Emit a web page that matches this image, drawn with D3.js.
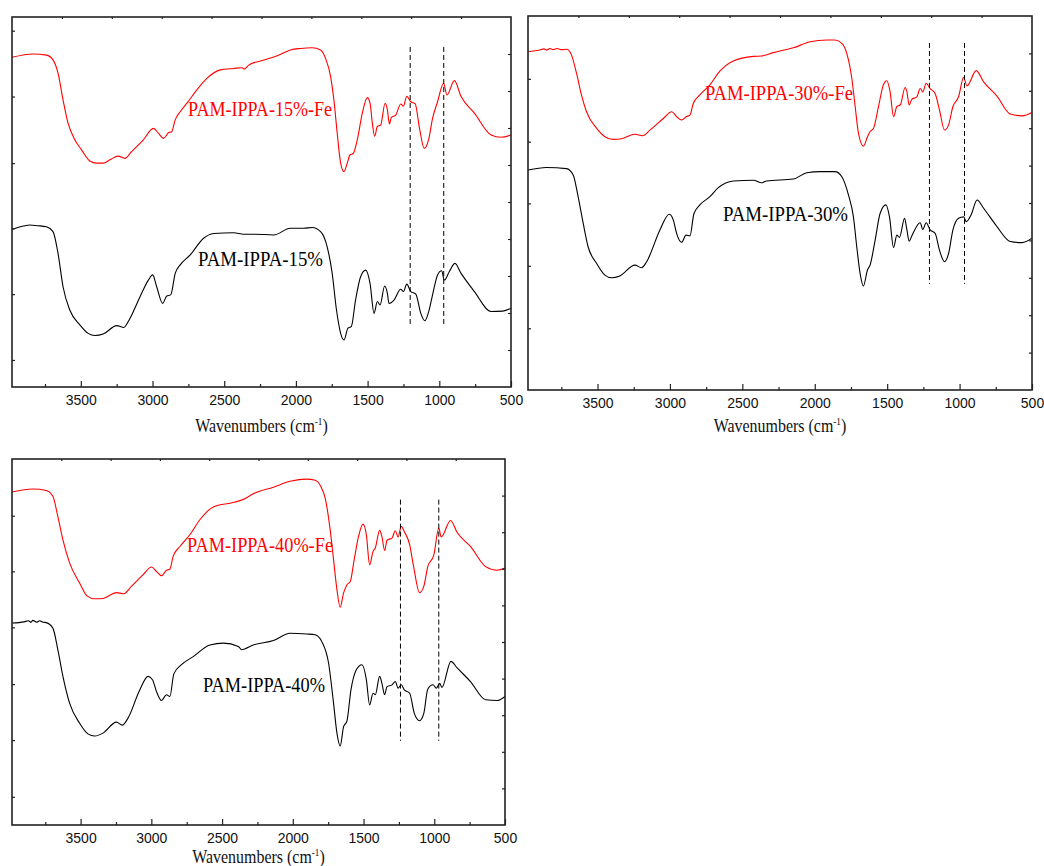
<!DOCTYPE html>
<html>
<head>
<meta charset="utf-8">
<script src="https://cdn.jsdelivr.net/npm/d3@7"></script>
<style>
  html, body { margin: 0; padding: 0; background: #fff; }
  svg { display: block; }
</style>
</head>
<body>
<div id="app"></div>
<script>
// FTIR spectra, readings as [wavenumber, transmittance (arb. 0-100)]
const s15Fe = [[3980,89.1],[3833,90.0],[3740,89.7],[3694,88.4],[3659,84.8],[3624,77.6],[3589,71.3],[3542,66.8],[3495,64.1],[3437,61.1],[3390,60.5],[3344,60.5],[3297,61.4],[3239,62.4],[3192,61.8],[3146,63.6],[3064,66.8],[2994,69.9],[2959,68.6],[2924,67.2],[2889,68.7],[2866,69.0],[2842,72.2],[2807,74.4],[2760,76.7],[2691,80.3],[2621,83.4],[2527,85.7],[2434,86.1],[2376,86.3],[2360,85.9],[2329,87.0],[2248,88.1],[2131,89.5],[2038,91.1],[1968,91.5],[1887,91.7],[1828,91.1],[1793,88.8],[1758,83.9],[1735,77.6],[1712,68.6],[1688,60.5],[1665,58.2],[1642,60.5],[1623,62.7],[1600,63.1],[1572,66.8],[1537,74.0],[1502,78.2],[1483,76.7],[1467,71.3],[1451,67.8],[1432,70.4],[1409,70.8],[1378,76.7],[1362,74.9],[1348,71.1],[1334,72.9],[1304,73.5],[1269,76.5],[1250,75.9],[1227,78.6],[1199,77.1],[1168,76.5],[1140,70.4],[1105,64.5],[1075,66.8],[1047,72.6],[1012,77.1],[970,82.1],[947,78.9],[895,82.8],[848,78.5],[755,74.0],[639,68.1],[569,67.5],[500,68.1]];
const s15 = [[3980,42.6],[3900,43.5],[3857,43.8],[3800,43.6],[3740,43.3],[3694,42.0],[3659,36.1],[3624,27.1],[3577,20.8],[3507,16.8],[3449,14.5],[3402,13.9],[3344,14.3],[3250,16.6],[3199,16.1],[3169,17.7],[3087,24.4],[3029,28.9],[2999,30.3],[2971,27.1],[2929,22.6],[2901,24.6],[2873,24.9],[2842,30.7],[2807,33.0],[2737,35.7],[2644,40.2],[2574,41.5],[2434,41.7],[2364,41.3],[2294,41.3],[2155,41.1],[2038,42.9],[1945,42.9],[1887,43.1],[1828,42.0],[1782,37.9],[1747,30.7],[1717,20.8],[1688,14.5],[1665,12.7],[1637,15.9],[1614,16.3],[1584,23.5],[1549,29.8],[1514,31.6],[1483,28.0],[1455,19.9],[1432,23.1],[1413,22.2],[1381,27.3],[1362,25.3],[1351,22.6],[1316,23.5],[1269,26.4],[1250,25.8],[1227,27.8],[1199,25.8],[1164,25.1],[1129,19.9],[1101,17.9],[1071,20.8],[1047,24.9],[1012,30.3],[984,31.4],[965,28.9],[930,31.2],[891,33.4],[848,30.7],[755,25.8],[639,20.4],[557,20.5],[500,21.3]];
const s30Fe = [[3979,90.5],[3899,90.9],[3870,91.2],[3850,90.9],[3830,91.3],[3806,91.0],[3780,91.3],[3750,91.0],[3714,91.1],[3680,89.6],[3645,84.7],[3611,78.9],[3576,74.4],[3507,70.0],[3449,67.7],[3392,67.0],[3334,67.2],[3242,68.4],[3189,68.0],[3138,69.5],[3046,72.6],[2988,74.4],[2954,73.1],[2919,72.2],[2885,73.1],[2862,73.5],[2839,76.6],[2793,78.9],[2724,81.6],[2654,85.3],[2562,88.0],[2424,89.2],[2367,89.3],[2286,90.2],[2148,91.5],[2032,93.1],[1917,93.6],[1860,93.6],[1813,92.7],[1779,90.0],[1744,83.3],[1721,75.8],[1698,68.6],[1664,65.2],[1636,67.7],[1618,69.1],[1595,69.9],[1560,75.8],[1526,81.6],[1503,82.7],[1480,79.8],[1456,73.1],[1433,75.8],[1410,76.2],[1376,80.9],[1364,79.8],[1348,76.2],[1330,77.7],[1295,78.4],[1272,80.6],[1254,79.7],[1231,82.0],[1203,80.6],[1169,79.3],[1139,74.9],[1104,69.5],[1076,70.9],[1046,75.8],[1007,78.4],[972,83.6],[949,81.3],[885,85.4],[834,82.4],[742,78.6],[650,73.8],[569,73.3],[500,74.2]];
const s30 = [[3979,58.8],[3853,59.5],[3714,59.2],[3668,57.5],[3634,51.7],[3599,44.6],[3565,38.3],[3507,33.9],[3449,30.7],[3403,30.0],[3346,30.5],[3242,33.4],[3196,32.7],[3161,34.3],[3069,42.8],[3005,47.0],[2977,45.5],[2954,41.9],[2919,39.5],[2889,41.4],[2862,41.2],[2834,47.2],[2793,49.5],[2724,51.7],[2666,54.1],[2562,55.9],[2424,56.1],[2367,55.4],[2332,55.9],[2148,56.4],[2055,58.1],[1963,58.4],[1860,58.4],[1813,57.0],[1767,52.1],[1733,46.3],[1710,38.3],[1687,31.2],[1664,27.8],[1636,32.1],[1618,33.4],[1583,40.1],[1549,47.2],[1509,49.5],[1484,46.3],[1456,38.1],[1433,41.4],[1415,40.8],[1380,45.9],[1364,42.9],[1348,39.8],[1330,41.2],[1272,44.7],[1254,42.9],[1231,44.7],[1203,42.8],[1169,41.9],[1139,37.4],[1104,34.3],[1076,36.5],[1046,42.8],[1007,45.9],[972,46.3],[954,45.0],[921,46.8],[879,50.8],[834,48.6],[742,43.7],[650,39.7],[569,39.4],[500,40.6]];
const s40Fe = [[3985,91.0],[3838,91.8],[3743,91.4],[3696,89.8],[3661,84.3],[3625,77.9],[3578,71.6],[3507,66.1],[3455,62.6],[3401,61.8],[3342,61.9],[3247,63.5],[3195,63.2],[3141,65.2],[3058,68.4],[2999,70.5],[2964,69.3],[2928,68.1],[2893,69.6],[2869,69.9],[2846,73.4],[2798,76.1],[2728,79.3],[2657,83.4],[2562,86.9],[2421,88.1],[2369,88.7],[2354,88.9],[2279,90.5],[2137,92.3],[2019,93.9],[1901,94.5],[1842,94.2],[1802,92.5],[1771,89.3],[1736,80.7],[1712,72.5],[1688,64.3],[1665,59.5],[1641,63.4],[1618,65.6],[1594,66.5],[1566,72.5],[1535,78.9],[1504,82.2],[1480,79.3],[1457,71.1],[1433,74.7],[1417,75.7],[1386,80.5],[1370,78.8],[1351,75.0],[1334,77.8],[1299,78.4],[1275,80.4],[1256,78.7],[1233,81.6],[1212,80.2],[1174,76.6],[1146,70.6],[1104,63.5],[1074,65.2],[1046,70.6],[1003,73.8],[968,81.1],[951,78.7],[885,83.2],[838,79.9],[744,76.1],[637,70.6],[555,69.6],[500,70.2]];
const s40 = [[3985,55.2],[3900,55.5],[3870,55.8],[3850,55.4],[3838,55.9],[3810,55.4],[3790,55.8],[3765,55.4],[3743,55.3],[3696,53.8],[3661,47.9],[3625,40.6],[3578,33.3],[3507,27.8],[3448,24.9],[3401,24.3],[3342,25.1],[3247,28.1],[3205,27.3],[3165,29.2],[3082,36.9],[3023,40.6],[2992,39.7],[2964,36.5],[2928,34.0],[2893,35.6],[2869,35.1],[2841,41.3],[2787,43.8],[2704,46.0],[2586,49.2],[2491,49.7],[2385,48.8],[2362,47.9],[2279,49.2],[2137,50.4],[2019,52.4],[1901,52.2],[1842,52.0],[1795,50.1],[1747,44.2],[1712,33.3],[1688,25.1],[1665,21.6],[1641,26.9],[1618,28.3],[1589,36.9],[1551,42.4],[1511,43.8],[1480,39.7],[1457,32.8],[1433,36.0],[1417,35.6],[1386,40.6],[1370,38.7],[1351,35.6],[1334,37.8],[1299,38.3],[1275,39.2],[1256,37.4],[1233,38.3],[1212,36.9],[1174,36.0],[1141,30.5],[1104,28.5],[1074,30.5],[1046,37.1],[1009,38.3],[985,37.4],[962,38.7],[946,37.6],[882,44.7],[838,42.9],[744,39.2],[637,34.2],[555,34.0],[500,35.1]];

const labels15 = ["PAM-IPPA-15%-Fe", "PAM-IPPA-15%"];
const labels30 = ["PAM-IPPA-30%-Fe", "PAM-IPPA-30%"];
const labels40 = ["PAM-IPPA-40%-Fe", "PAM-IPPA-40%"];

const majorTicks = [3500, 3000, 2500, 2000, 1500, 1000, 500];
const minorTicks = [3750, 3250, 2750, 2250, 1750, 1250, 750];
const rightTicks = [10, 20, 30, 40, 50, 60, 70, 80, 90];
const topTicks = [0.1, 0.2, 0.3, 0.4, 0.5, 0.6, 0.7, 0.8, 0.9];
const leftTicks15 = [7.3, 25.1, 42.9, 60.5, 78.5, 96.3];
const leftTicks30 = [16.5, 33.2, 49.9, 66.4, 83.2];
const leftTicks40 = [7.7, 23.2, 38.5, 54.0, 69.3, 84.5];
const dashes15 = [1203, 969];
const dashes30 = [1208, 966];
const dashes40 = [1239, 968];

const W = 1044, H = 866;
const svg = d3.select("#app").append("svg")
    .attr("width", W)
    .attr("height", H);

const panels = [
    { box: [12, 17, 511, 387], xDom: [3980, 500], series: [s15Fe, s15], labels: labels15, leftTicks: leftTicks15,
      dashes: dashes15, dashRange: [91.9, 16.2], labelPos: [[188, 116, 144], [198, 266, 125]], titleOff: 45 },
    { box: [528, 16, 1032, 390], xDom: [3980, 500], series: [s30Fe, s30], labels: labels30, leftTicks: leftTicks30,
      dashes: dashes30, dashRange: [92.8, 28.4], labelPos: [[705, 100, 148], [723, 221, 125]], titleOff: 42 },
    { box: [12, 459, 505, 825], xDom: [3985, 500], series: [s40Fe, s40], labels: labels40, leftTicks: leftTicks40,
      dashes: dashes40, dashRange: [88.9, 23.0], labelPos: [[187, 552, 146], [203, 692, 122]], titleOff: 38 }
];
const colors = ["#ff0000", "#000000"];

panels.forEach(p => {
    const [x0, y0, x1, y1] = p.box;
    const x = d3.scaleLinear().domain(p.xDom).range([x0, x1]);
    const y = d3.scaleLinear().domain([0, 100]).range([y1, y0]);
    const fx = d3.scaleLinear().domain([0, 1]).range([x0, x1]);
    const g = svg.append("g");

    const line = d3.line()
        .x(d => x(d[0]))
        .y(d => y(d[1]))
        .curve(d3.curveMonotoneX);

    p.series.forEach((s, i) => {
        g.append("path")
            .datum(s)
            .attr("d", line)
            .attr("fill", "none")
            .attr("stroke", colors[i])
            .attr("stroke-width", 1.1);
    });

    p.dashes.forEach(w => {
        g.append("line")
            .attr("x1", x(w)).attr("x2", x(w))
            .attr("y1", y(p.dashRange[0])).attr("y2", y(p.dashRange[1]))
            .attr("stroke", "#000")
            .attr("stroke-width", 1)
            .attr("stroke-dasharray", "5,3");
    });

    // axes
    const bottom = g.append("g")
        .attr("transform", `translate(0,${y1})`)
        .call(d3.axisBottom(x).tickValues(majorTicks).tickFormat(d3.format("d"))
            .tickSizeInner(-6).tickSizeOuter(0).tickPadding(8));
    bottom.selectAll("text")
        .style("font-family", "'Liberation Sans', Arial, sans-serif")
        .style("font-size", "14px")
        .attr("fill", "#111");
    g.append("g")
        .attr("transform", `translate(0,${y1})`)
        .call(d3.axisBottom(x).tickValues(minorTicks).tickSizeInner(-3).tickSizeOuter(0).tickFormat(""));
    g.append("g")
        .attr("transform", `translate(${x0},0)`)
        .call(d3.axisLeft(y).tickValues(p.leftTicks).tickSizeInner(-3).tickSizeOuter(0).tickFormat(""));
    g.append("g")
        .attr("transform", `translate(${x1},0)`)
        .call(d3.axisRight(y).tickValues(rightTicks).tickSizeInner(-3).tickSizeOuter(0).tickFormat(""));
    g.append("g")
        .attr("transform", `translate(0,${y0})`)
        .call(d3.axisTop(fx).tickValues(topTicks).tickSizeInner(-2).tickSizeOuter(0).tickFormat(""));
    g.selectAll(".domain").remove();
    g.selectAll(".tick line").attr("stroke", "#222").attr("stroke-width", 1.2);

    g.append("rect")
        .attr("x", x0).attr("y", y0)
        .attr("width", x1 - x0).attr("height", y1 - y0)
        .attr("fill", "none")
        .attr("stroke", "#222")
        .attr("stroke-width", 1.6);

    // curve labels
    p.labels.forEach((t, i) => {
        const [lx, ly, lw] = p.labelPos[i];
        g.append("text")
            .attr("x", lx).attr("y", ly)
            .attr("textLength", lw)
            .attr("lengthAdjust", "spacingAndGlyphs")
            .style("font-family", "'Liberation Serif', 'Times New Roman', serif")
            .style("font-size", "20px")
            .attr("fill", colors[i])
            .text(t);
    });

    // axis title
    const cx = (x0 + x1) / 2;
    const title = g.append("text")
        .attr("transform", `translate(${cx},${y1 + p.titleOff}) scale(0.84,1)`)
        .attr("text-anchor", "middle")
        .style("font-family", "'Liberation Serif', 'Times New Roman', serif")
        .style("font-size", "19px")
        .attr("fill", "#111");
    title.append("tspan").text("Wavenumbers (cm");
    title.append("tspan").attr("dy", -7).style("font-size", "11px").text("-1");
    title.append("tspan").attr("dy", 7).text(")");
});
</script>
</body>
</html>
